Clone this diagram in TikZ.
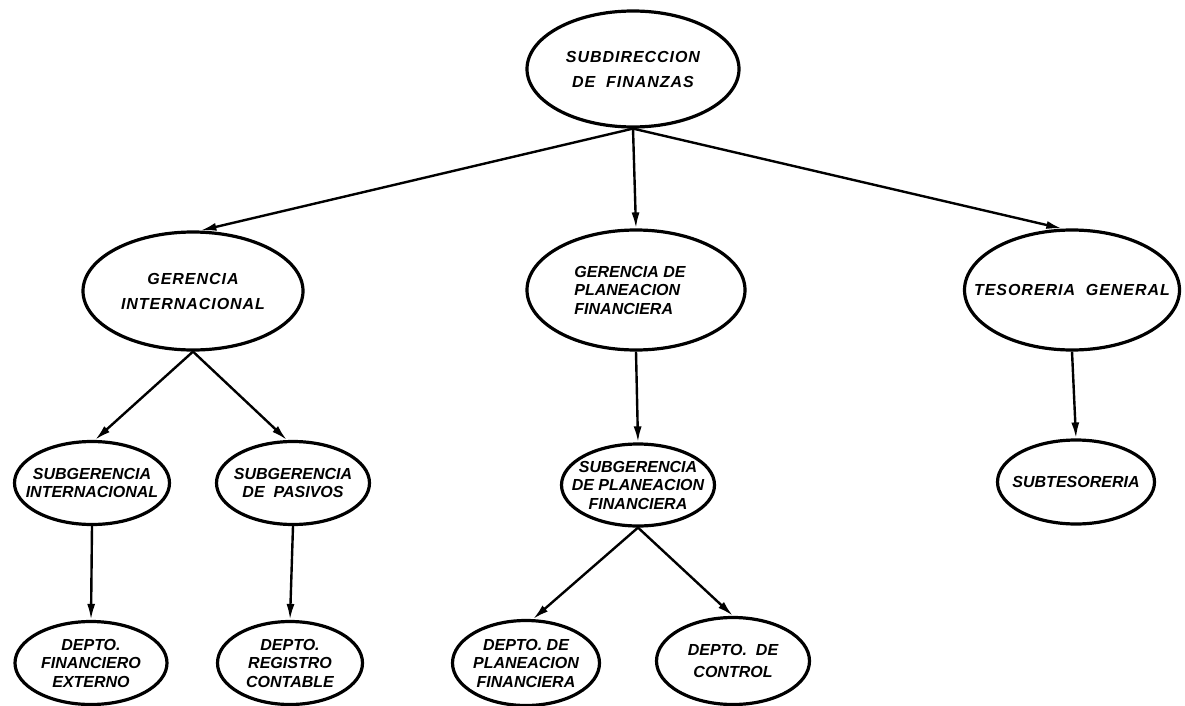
\documentclass[tikz,border=0pt]{standalone}
\usepackage{fontspec}
\setmainfont{Liberation Sans}
\newfontfamily\widefont[LetterSpace=6]{Liberation Sans}
\usetikzlibrary{shapes.geometric,arrows.meta}
\begin{document}
\begin{tikzpicture}[x=1pt,y=-1pt,
  org/.style={ellipse, draw, line width=3.2pt, inner sep=0pt},
  lbl/.style={inner sep=0pt, align=center,
    font=\fontsize{16}{18.5}\selectfont\bfseries\itshape},
  biglbl/.style={lbl, font=\widefont\fontsize{16}{25}\selectfont\bfseries\itshape},
  link/.style={line width=2.4pt, -{Latex[length=16pt,width=8pt]}}]
\useasboundingbox (0,0) rectangle (1185,706);
% level 0
\node[org, minimum width=212pt, minimum height=116pt] (top) at (633,69) {};
\node[biglbl] (topt) at (top) {SUBDIRECCION\\DE\ \ FINANZAS};
% level 1
\node[org, minimum width=220pt, minimum height=118pt] (gi) at (193,291) {};
\node[biglbl] (git) at (gi) {GERENCIA\\INTERNACIONAL};
\node[org, minimum width=218pt, minimum height=120pt] (gp) at (636,290) {};
\node[lbl, align=left] (gpt) at (630,290) {GERENCIA DE\\PLANEACION\\FINANCIERA};
\node[org, minimum width=215pt, minimum height=120pt] (tg) at (1072,290) {};
\node[biglbl] (tgt) at (tg) {TESORERIA\ \ GENERAL};
% level 2
\node[org, minimum width=155pt, minimum height=83pt] (si) at (92,483) {};
\node[lbl] (sit) at (si) {SUBGERENCIA\\INTERNACIONAL};
\node[org, minimum width=153pt, minimum height=83pt] (sp) at (293,483) {};
\node[lbl] (spt) at (sp) {SUBGERENCIA\\DE\ \ PASIVOS};
\node[org, minimum width=153pt, minimum height=82pt] (spl) at (638,485) {};
\node[lbl] (splt) at (spl) {SUBGERENCIA\\DE PLANEACION\\FINANCIERA};
\node[org, minimum width=157pt, minimum height=84pt] (st) at (1076,482) {};
\node[lbl] (stt) at (st) {SUBTESORERIA};
% level 3
\node[org, minimum width=152pt, minimum height=83pt] (d1) at (91,663) {};
\node[lbl] (d1t) at (d1) {DEPTO.\\FINANCIERO\\EXTERNO};
\node[org, minimum width=145pt, minimum height=83pt] (d2) at (290,663) {};
\node[lbl] (d2t) at (d2) {DEPTO.\\REGISTRO\\CONTABLE};
\node[org, minimum width=147pt, minimum height=85pt] (d3) at (526,663) {};
\node[lbl] (d3t) at (d3) {DEPTO. DE\\PLANEACION\\FINANCIERA};
\node[org, minimum width=153pt, minimum height=87pt] (d4) at (733,661) {};
\node[lbl] (d4t) at (d4) {DEPTO.\ \ DE\\[4pt]CONTROL};
% connectors
\draw[link] (top.south) -- (gi.83);
\draw[link] (top.south) -- (gp.north);
\draw[link] (top.south) -- (tg.99);
\draw[link] (gi.south) -- (si.86);
\draw[link] (gi.south) -- (sp.98);
\draw[link] (gp.south) -- (spl.north);
\draw[link] (tg.south) -- (st.north);
\draw[link] (si.south) -- (d1.north);
\draw[link] (sp.south) -- (d2.north);
\draw[link] (spl.south) -- (d3.81);
\draw[link] (spl.south) -- (d4.north);
\end{tikzpicture}
\end{document}
